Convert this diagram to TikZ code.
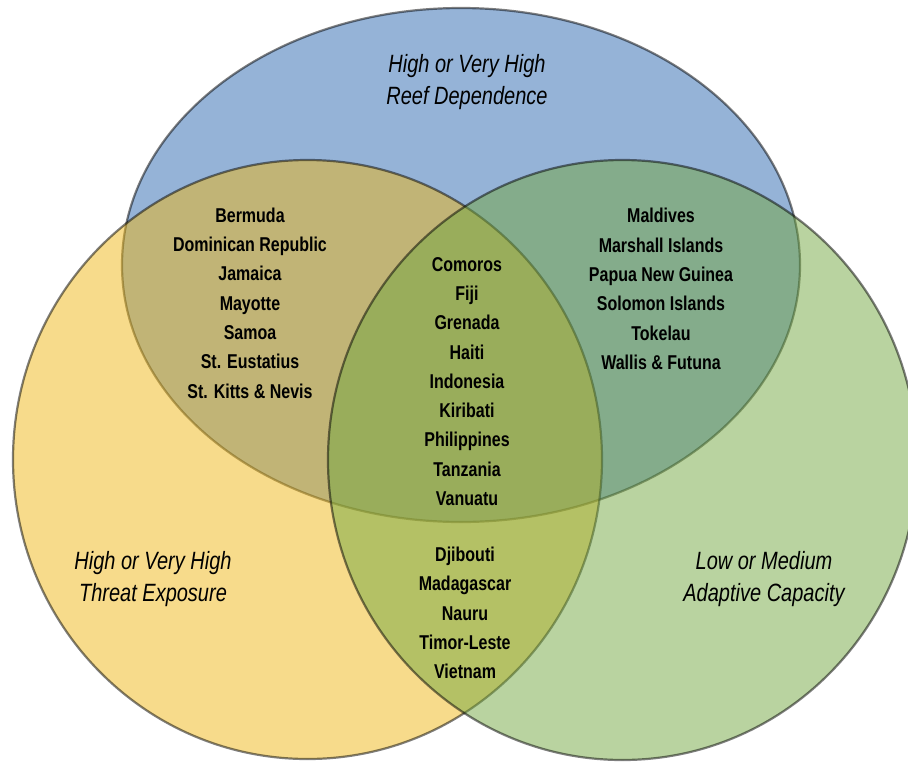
\documentclass[tikz,border=0pt]{standalone}
\usepackage{fontspec}
\setmainfont{Liberation Sans}[FakeStretch=0.8]
\begin{document}
\begin{tikzpicture}[x=1pt,y=-1pt]
\definecolor{cblue}{RGB}{43,103,175}
\definecolor{cyellow}{RGB}{239,183,23}
\definecolor{cgreen}{RGB}{115,167,65}
\tikzset{
  venn/.style={draw=black, draw opacity=0.5, fill opacity=0.5, line width=2.2pt},
  lst/.style={font=\fontsize{20}{29.3}\selectfont\bfseries, align=center, inner sep=0pt},
  lbl/.style={font=\fontsize{25}{32}\selectfont\itshape, align=center, inner sep=0pt}
}
\useasboundingbox (0,0) rectangle (908,761);
\coordinate (cb) at (461,265);
\coordinate (cy) at (307.5,459.5);
\coordinate (cg) at (622.5,460);
\begin{scope}
\clip (0,0) rectangle (908,761);
\draw[venn, fill=cblue] (cb) ellipse [x radius=339, y radius=257];
\draw[venn, fill=cyellow] (cy) ellipse [x radius=294.5, y radius=299.5];
\draw[venn, fill=cgreen] (cg) ellipse [x radius=294.5, y radius=300];
\end{scope}
\node[lbl] (reef) at (467,82) {High or Very High\\Reef Dependence};
\node[lbl] (threat) at (153,579) {High or Very High\\Threat Exposure};
\node[lbl] (adapt) at (764,579) {Low or Medium\\Adaptive Capacity};
\node[lst] (by) at (250,303) {Bermuda\\Dominican Republic\\Jamaica\\Mayotte\\Samoa\\St. Eustatius\\St. Kitts \& Nevis};
\node[lst] (bg) at (661,289) {Maldives\\Marshall Islands\\Papua New Guinea\\Solomon Islands\\Tokelau\\Wallis \& Futuna};
\node[lst] (all) at (467,381.5) {Comoros\\Fiji\\Grenada\\Haiti\\Indonesia\\Kiribati\\Philippines\\Tanzania\\Vanuatu};
\node[lst] (yg) at (465,613) {Djibouti\\Madagascar\\Nauru\\Timor-Leste\\Vietnam};
\end{tikzpicture}
\end{document}
